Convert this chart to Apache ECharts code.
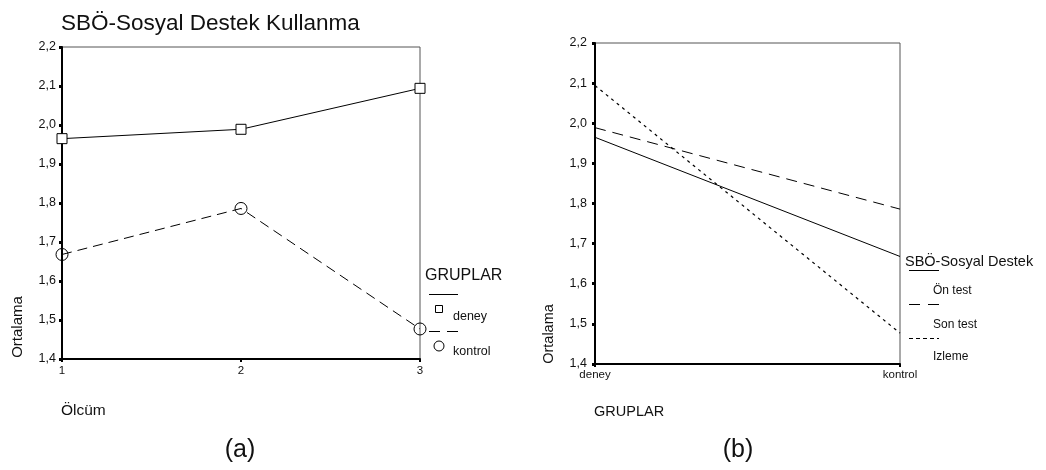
<!DOCTYPE html>
<html>
<head>
<meta charset="utf-8">
<script src="https://cdn.jsdelivr.net/npm/echarts@6/dist/echarts.min.js"></script>
<style>
  html, body { margin: 0; padding: 0; background: #fff; }
  #main { width: 1046px; height: 470px; }
</style>
</head>
<body>
<div id="main"></div>
<script>
// ---------- data ----------
var olcumler = [1, 2, 3];
var deneyData = [1.965, 1.989, 2.094];
var kontrolData = [1.668, 1.786, 1.477];

var gruplar = ['deney', 'kontrol'];
var onTest = [1.965, 1.668];
var sonTest = [1.989, 1.786];
var izleme = [2.094, 1.477];

var yTicks = [1.4, 2.2, 0.1]; // min, max, interval

var fontName = '"Liberation Sans", Arial, sans-serif';
var ink = '#111';

var chartDom = document.getElementById('main');
var myChart = echarts.init(chartDom);

function commaLabel(v) {
    return v.toFixed(1).replace('.', ',');
}

function yAxisOf(gridIndex, margin) {
    return {
        type: 'value',
        gridIndex: gridIndex,
        min: yTicks[0],
        max: yTicks[1],
        interval: yTicks[2],
        axisLine: { show: true, lineStyle: { color: '#000', width: 2 } },
        axisTick: { show: true, length: 3, lineStyle: { color: '#000', width: 3 } },
        axisLabel: { color: ink, fontSize: 12.5, fontFamily: fontName, margin: margin, formatter: commaLabel },
        splitLine: { show: false }
    };
}

// plain text for titles / legend
function txt(x, y, text, size, align, rot) {
    return {
        type: 'text',
        x: x,
        y: y,
        rotation: rot || 0,
        style: {
            text: text,
            fill: ink,
            font: size + 'px ' + fontName,
            textAlign: align || 'left',
            textVerticalAlign: 'middle'
        }
    };
}

function legendLine(x1, x2, y, dash) {
    return {
        type: 'line',
        shape: { x1: x1, y1: y + 0.5, x2: x2, y2: y + 0.5 },
        style: { stroke: '#000', lineWidth: 1, lineDash: dash || null }
    };
}

var option = {
    backgroundColor: '#fff',
    animation: false,
    title: {
        text: 'SBÖ-Sosyal Destek Kullanma',
        left: 56,
        top: 7,
        textStyle: { color: ink, fontSize: 22.5, fontWeight: 'normal', fontFamily: fontName }
    },
    grid: [
        { left: 62, right: 626, top: 47, bottom: 111, show: true, borderColor: '#555', borderWidth: 1 },
        { left: 595, right: 146, top: 43, bottom: 106, show: true, borderColor: '#555', borderWidth: 1 }
    ],
    xAxis: [
        {
            type: 'value',
            gridIndex: 0,
            min: 1,
            max: 3,
            interval: 1,
            axisLine: { show: true, lineStyle: { color: '#000', width: 2 } },
            axisTick: { show: true, length: 3, lineStyle: { color: '#000', width: 2 } },
            axisLabel: { color: ink, fontSize: 11.5, fontFamily: fontName, margin: 6 },
            splitLine: { show: false }
        },
        {
            type: 'category',
            gridIndex: 1,
            data: gruplar,
            boundaryGap: false,
            axisLine: { show: true, lineStyle: { color: '#000', width: 2 } },
            axisTick: { show: true, length: 3, lineStyle: { color: '#000', width: 2 } },
            axisLabel: { color: ink, fontSize: 11.5, fontFamily: fontName, margin: 5, interval: 0 },
            splitLine: { show: false }
        }
    ],
    yAxis: [yAxisOf(0, 6), yAxisOf(1, 8)],
    series: [
        {
            name: 'deney',
            type: 'line',
            xAxisIndex: 0,
            yAxisIndex: 0,
            data: olcumler.map(function(x, i) { return [x, deneyData[i]]; }),
            symbol: 'rect',
            symbolSize: 10,
            lineStyle: { color: '#000', width: 1 },
            itemStyle: { color: '#fff', borderColor: '#000', borderWidth: 1 },
            z: 5
        },
        {
            name: 'kontrol',
            type: 'line',
            xAxisIndex: 0,
            yAxisIndex: 0,
            data: olcumler.map(function(x, i) { return [x, kontrolData[i]]; }),
            symbol: 'circle',
            symbolSize: 12,
            lineStyle: { color: '#000', width: 1, type: [10, 6] },
            itemStyle: { color: 'rgba(255,255,255,0)', borderColor: '#000', borderWidth: 1 },
            z: 5
        },
        {
            name: 'Ön test',
            type: 'line',
            xAxisIndex: 1,
            yAxisIndex: 1,
            data: onTest,
            showSymbol: false,
            lineStyle: { color: '#000', width: 1 }
        },
        {
            name: 'Son test',
            type: 'line',
            xAxisIndex: 1,
            yAxisIndex: 1,
            data: sonTest,
            showSymbol: false,
            lineStyle: { color: '#000', width: 1, type: [11, 7] }
        },
        {
            name: 'Izleme',
            type: 'line',
            xAxisIndex: 1,
            yAxisIndex: 1,
            data: izleme,
            showSymbol: false,
            lineStyle: { color: '#000', width: 1.2, type: [3, 4] }
        }
    ],
    graphic: [
        // axis titles
        txt(18, 327, 'Ortalama', 15, 'center', Math.PI / 2),
        txt(549, 334, 'Ortalama', 14.5, 'center', Math.PI / 2),
        txt(61, 411, 'Ölcüm', 15.5),
        txt(594, 412, 'GRUPLAR', 14.5),
        txt(240, 450, '(a)', 25, 'center'),
        txt(738, 450, '(b)', 25, 'center'),

        // legend (a)
        txt(425, 276, 'GRUPLAR', 16),
        legendLine(429, 458, 294),
        {
            type: 'rect',
            shape: { x: 435.5, y: 305.5, width: 7, height: 7 },
            style: { fill: '#fff', stroke: '#000', lineWidth: 1 }
        },
        txt(453, 317, 'deney', 12.5),
        legendLine(429, 458, 331, [11, 7]),
        {
            type: 'circle',
            shape: { cx: 439, cy: 346, r: 5 },
            style: { fill: '#fff', stroke: '#000', lineWidth: 1 }
        },
        txt(453, 352, 'kontrol', 12.5),

        // legend (b)
        txt(905, 262, 'SBÖ-Sosyal Destek', 14.5),
        legendLine(909, 939, 270),
        txt(933, 291, 'Ön test', 12),
        legendLine(909, 939, 304, [11, 8]),
        txt(933, 325, 'Son test', 12),
        legendLine(909, 939, 338, [4, 3]),
        txt(933, 357, 'Izleme', 12)
    ]
};

myChart.setOption(option);
</script>
</body>
</html>
